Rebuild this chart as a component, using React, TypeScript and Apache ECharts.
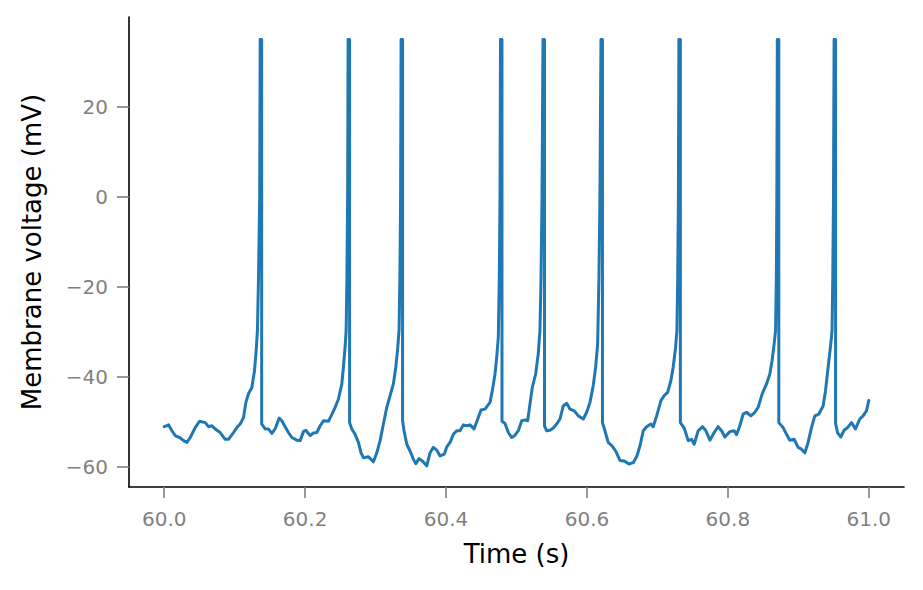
import React, { useEffect, useRef } from "react";
import * as echarts from "echarts";

// Membrane voltage trace, [ms after 60 s, mV], split at each spike reset
const seg1 = [[0,-51.0],[3.8,-50.8],[6.1,-50.6],[10.9,-51.9],[15.6,-53.0],[22.7,-53.5],[27.4,-54.1],[32.2,-54.5],[36.9,-53.4],[44.0,-51.2],[50.1,-49.8],[58.2,-50.1],[62.8,-51.0],[67.7,-50.8],[72.3,-51.5],[79.4,-52.3],[86.5,-53.8],[91.2,-53.8],[98.3,-52.3],[103.1,-51.2],[107.8,-50.4],[112.5,-49.0],[115.9,-45.6],[119.6,-43.7],[124.4,-42.3],[128.1,-38.6],[130.5,-34.1],[132.3,-29.6],[133.8,-18],[135.5,0],[136.2,35],[138.3,35]];
const seg2 = [[138.3,-50.4],[143.3,-51.5],[147.9,-51.5],[152.8,-52.5],[157.4,-51.5],[163.1,-49.1],[167.0,-49.7],[171.6,-51.0],[176.3,-52.3],[181.1,-53.4],[188.2,-54.0],[192.9,-54.1],[197.6,-52.1],[201.0,-51.8],[207.1,-53.0],[211.8,-52.4],[216.6,-52.3],[221.3,-50.8],[226.0,-49.7],[233.0,-49.8],[236.9,-48.6],[242.6,-46.7],[247.2,-44.9],[252.1,-41.5],[254.3,-37.8],[256.7,-33.4],[258.2,-29.6],[259.3,-18],[260.3,0],[261.0,35],[263.1,35]];
const seg3 = [[263.1,-50.1],[266.2,-51.5],[270.9,-52.7],[275.6,-54.5],[279.4,-56.8],[282.7,-57.9],[289.8,-57.7],[296.9,-58.8],[301.7,-56.8],[306.4,-54.1],[311.1,-50.4],[315.9,-46.7],[320.6,-44.1],[325.2,-41.5],[328.7,-37.8],[331.5,-33.4],[333.3,-29.6],[334.5,-18],[335.5,0],[336.2,35],[338.3,35]];
const seg4 = [[338.3,-49.7],[340.4,-51.9],[344.3,-54.9],[348.9,-56.4],[353.6,-58.2],[357.0,-59.2],[361.7,-58.1],[366.4,-58.6],[372.6,-59.7],[377.3,-56.8],[382.0,-55.6],[386.8,-56.2],[391.5,-57.5],[397.6,-57.1],[401.0,-55.5],[405.7,-54.5],[410.4,-52.7],[415.2,-51.9],[419.9,-51.9],[424.5,-50.6],[429.4,-50.8],[434.0,-50.6],[439.7,-51.5],[445.0,-49.3],[449.6,-47.3],[455.3,-47.1],[462.4,-45.6],[465.7,-43.0],[469.5,-39.3],[471.9,-35.6],[474.2,-31.1],[475.6,-18],[476.6,0],[477.3,35],[479.4,35]];
const seg5 = [[479.4,-49.8],[483.7,-50.3],[488.4,-52.3],[493.2,-53.4],[497.9,-52.9],[502.8,-51.8],[507.4,-49.7],[512.1,-49.5],[515.9,-49.7],[519.1,-46.0],[522.4,-42.3],[527.2,-39.3],[530.9,-34.8],[533.3,-29.6],[534.8,-18],[536.2,0],[537.6,35],[539.7,35]];
const seg6 = [[539.7,-50.8],[542.8,-51.9],[547.5,-51.8],[552.2,-51.3],[557.0,-50.4],[561.7,-49.3],[566.4,-46.4],[571.2,-45.8],[575.9,-47.1],[582.0,-47.5],[587.7,-48.6],[594.8,-49.3],[599.6,-47.8],[604.3,-45.6],[608.9,-41.9],[612.3,-37.8],[615.2,-32.6],[617.0,-18],[618.4,0],[619.9,35],[622.0,35]];
const seg7 = [[622.0,-50.1],[625.5,-51.9],[630.2,-54.5],[635.9,-55.3],[640.7,-56.4],[646.8,-58.5],[652.9,-58.6],[659.6,-59.3],[665.7,-59.0],[670.9,-57.5],[675.2,-55.3],[679.9,-51.9],[684.7,-51.0],[690.8,-50.4],[694.0,-51.0],[698.9,-48.6],[705.0,-45.2],[709.6,-44.1],[714.5,-43.4],[719.1,-40.8],[722.4,-37.8],[725.8,-33.4],[727.7,-29.6],[728.8,-18],[729.8,0],[730.5,35],[732.6,35]];
const seg8 = [[732.6,-50.1],[738.0,-51.3],[743.7,-54.1],[748.5,-53.8],[752.2,-54.9],[757.9,-51.9],[764.1,-51.0],[768.8,-51.9],[774.5,-54.0],[780.6,-52.3],[786.2,-51.0],[791.1,-51.9],[795.7,-53.3],[802.8,-52.1],[808.9,-51.9],[812.3,-52.8],[817.0,-50.8],[821.7,-48.2],[826.5,-47.8],[832.6,-48.6],[838.3,-47.8],[843.0,-46.7],[848.7,-43.7],[854.9,-41.5],[859.6,-39.3],[862.8,-36.3],[865.7,-32.6],[867.7,-29.6],[868.8,-18],[869.5,0],[870.2,35],[872.3,35]];
const seg9 = [[872.3,-50.1],[878.4,-51.2],[883.3,-52.7],[887.9,-54.0],[894.1,-53.8],[899.7,-55.6],[904.5,-56.0],[909.2,-56.8],[913.9,-54.5],[918.7,-51.2],[923.4,-48.6],[929.1,-48.2],[935.2,-46.4],[938.6,-43.0],[942.3,-37.8],[946.1,-32.6],[947.9,-29.6],[948.9,-18],[949.9,0],[950.8,35],[952.9,35]];
const seg10 = [[952.9,-50.3],[955.6,-52.3],[960.3,-53.3],[965.0,-51.8],[969.8,-51.2],[975.5,-50.1],[981.1,-51.5],[987.2,-49.3],[991.9,-48.6],[996.7,-47.5],[1000.0,-45.2]];

const xTicks = [60.0, 60.2, 60.4, 60.6, 60.8, 61.0];
const yTicks = [-60, -40, -20, 0, 20];

const FONT = "DejaVu Sans";

export default function App() {
  const ref = useRef<HTMLDivElement>(null);
  useEffect(() => {
    if (!ref.current) return;
    const chart = echarts.init(ref.current, null, { renderer: "svg" });
    const trace = [...seg1, ...seg2, ...seg3, ...seg4, ...seg5, ...seg6, ...seg7, ...seg8, ...seg9, ...seg10];
    const data = trace.map(([ms, mv]) => [60 + ms / 1000, mv]);
    chart.setOption({
      animation: false,
      backgroundColor: "#ffffff",
      grid: { left: 129, right: 19, top: 17, bottom: 103, containLabel: false },
      xAxis: {
        type: "value",
        min: 59.95,
        max: 61.05,
        name: "Time (s)",
        nameLocation: "middle",
        nameGap: 54,
        nameTextStyle: { fontFamily: FONT, fontSize: 26, color: "#000000" },
        axisLine: { show: true, onZero: false, lineStyle: { color: "#000000", width: 1.6 } },
        axisTick: { show: true, inside: false, length: 11, customValues: xTicks, lineStyle: { color: "#808080", width: 1.6 } },
        axisLabel: {
          customValues: xTicks,
          margin: 22,
          fontFamily: FONT,
          fontSize: 20,
          color: "#808080",
          formatter: (v: number) => v.toFixed(1),
        },
        splitLine: { show: false },
      },
      yAxis: {
        type: "value",
        min: -64.4,
        max: 40.0,
        name: "Membrane voltage (mV)",
        nameLocation: "middle",
        nameGap: 84,
        nameTextStyle: { fontFamily: FONT, fontSize: 26, color: "#000000" },
        axisLine: { show: true, onZero: false, lineStyle: { color: "#000000", width: 1.6 } },
        axisTick: { show: true, inside: false, length: 12, customValues: yTicks, lineStyle: { color: "#808080", width: 1.6 } },
        axisLabel: {
          customValues: yTicks,
          margin: 21,
          fontFamily: FONT,
          fontSize: 20,
          color: "#808080",
          formatter: (v: number) => String(v).replace("-", "\u2212"),
        },
        splitLine: { show: false },
      },
      series: [
        {
          type: "line",
          data,
          showSymbol: false,
          symbol: "none",
          lineStyle: { color: "#1f77b4", width: 3, join: "round", cap: "round" },
          itemStyle: { color: "#1f77b4" },
        },
      ],
    });
    return () => chart.dispose();
  }, []);
  return (
    <div
      ref={ref}
      style={{ position: "fixed", left: 0, top: 0, width: 923, height: 590, background: "#fff" }}
    />
  );
}
